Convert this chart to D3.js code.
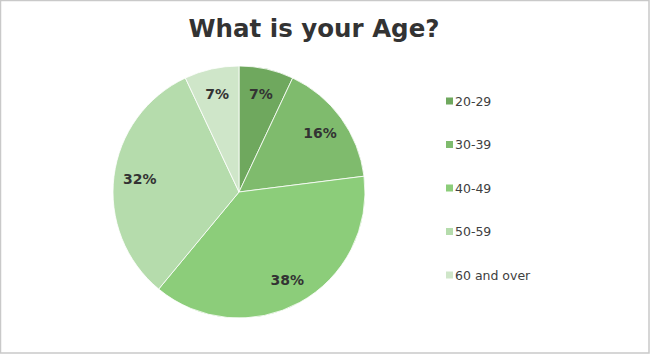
<!DOCTYPE html>
<html>
<head>
<meta charset="utf-8">
<script src="https://cdn.jsdelivr.net/npm/d3@7"></script>
<style>
	body { margin: 0; background: #fff; }
	svg { display: block; }
</style>
</head>
<body>
<svg id="chart"></svg>
<script>
const WIDTH = 650;
const HEIGHT = 354;

const categories = ["20-29", "30-39", "40-49", "50-59", "60 and over"];
const percentages = [7, 16, 38, 32, 7];
const colors = ["#6fa85e", "#7fbb6d", "#8ccd7a", "#b5dcac", "#cfe6c9"];

const svg = d3.select("#chart").attr("width", WIDTH).attr("height", HEIGHT);

// outer frame
svg.append("rect")
	.attr("x", 0.5)
	.attr("y", 0.5)
	.attr("width", WIDTH - 1.5)
	.attr("height", HEIGHT - 1.5)
	.attr("fill", "#fff")
	.attr("stroke", "#c9c9c9")
	.attr("stroke-width", 1.5);

svg.append("text")
	.attr("x", 314)
	.attr("y", 37)
	.attr("text-anchor", "middle")
	.attr("font-family", "DejaVu Sans")
	.attr("font-weight", "bold")
	.attr("font-size", 24.5)
	.attr("fill", "#333")
	.text("What is your Age?");

const cx = 239;
const cy = 192;
const radius = 126;

const pie = d3.pie().sort(null).value(d => d.value);
const arc = d3.arc().innerRadius(0).outerRadius(radius);
const labelArc = d3.arc().innerRadius(100).outerRadius(100);

const data = pie(categories.map((c, i) => ({ name: c, value: percentages[i] })));
const color = d3.scaleOrdinal(categories, colors);

const g = svg.append("g").attr("transform", `translate(${cx},${cy})`);

g.selectAll(".slice")
	.data(data)
	.join("path")
	.classed("slice", true)
	.attr("d", arc)
	.attr("fill", d => color(d.data.name))
	.attr("stroke", "#fff")
	.attr("stroke-width", 0.8);

g.selectAll(".pct")
	.data(data)
	.join("text")
	.classed("pct", true)
	.attr("transform", d => `translate(${labelArc.centroid(d)})`)
	.attr("text-anchor", "middle")
	.attr("dy", "0.35em")
	.attr("font-family", "DejaVu Sans")
	.attr("font-weight", "bold")
	.attr("font-size", 14)
	.attr("fill", "#333")
	.text(d => d.data.value + "%");

// legend
const legendY = d3.scalePoint(categories, [101, 275]);

const legend = svg.selectAll(".legend-item")
	.data(categories)
	.join("g")
	.classed("legend-item", true)
	.attr("transform", d => `translate(446,${legendY(d)})`);

legend.append("rect")
	.attr("x", 0)
	.attr("y", -3.5)
	.attr("width", 7)
	.attr("height", 7)
	.attr("fill", d => color(d));

legend.append("text")
	.attr("x", 9)
	.attr("dy", "0.36em")
	.attr("font-family", "DejaVu Sans")
	.attr("font-size", 12.5)
	.attr("fill", "#404040")
	.text(d => d);
</script>
</body>
</html>
